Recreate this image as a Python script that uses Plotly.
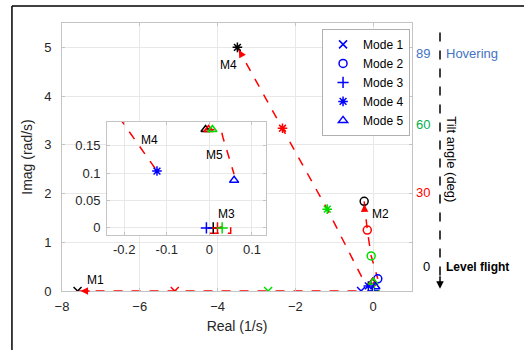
import plotly.graph_objects as go

# ---- data ----
stage_colors = ["#000000", "#ff0000", "#00dd00", "#0000ff"]  # black, red, green, blue stages

mode1_re = [-7.6, -5.1, -2.7, -0.31]
mode1_im = [0.0, 0.0, 0.0, 0.0]

mode2_re = [-0.23, -0.15, -0.05, 0.12]
mode2_im = [1.84, 1.25, 0.72, 0.25]

mode3_re = [0.009, 0.019, 0.03, -0.007]
mode3_im = [0.0, 0.0, 0.0, 0.0]
mode3_path_re = [0.009, 0.019, 0.03, 0.05, 0.05, -0.009, -0.007]
mode3_path_im = [0.0, 0.0, 0.002, 0.002, -0.01, -0.01, 0.0]

mode4_re = [-3.49, -2.33, -1.18, -0.123]
mode4_im = [5.0, 3.34, 1.68, 0.104]
mode4_path_re = [-3.49, -2.33, -1.18, -0.3, -0.123]
mode4_path_im = [5.0, 3.34, 1.68, 0.3, 0.104]

mode5_re = [-0.009, -0.002, 0.007, 0.058]
mode5_im = [0.18, 0.18, 0.18, 0.087]
mode5_path_re = [-0.009, -0.002, 0.007, 0.028, 0.032, 0.058]
mode5_path_im = [0.18, 0.18, 0.18, 0.178, 0.165, 0.098]

mode_names = ["Mode 1", "Mode 2", "Mode 3", "Mode 4", "Mode 5"]
mode_symbols = ["x-thin-open", "circle-open", "cross-thin-open", "asterisk-open", "triangle-up-open"]

main_labels = ["M1", "M4", "M2"]
main_label_re = [-7.15, -3.72, 0.2]
main_label_im = [0.22, 4.63, 1.58]

inset_labels = ["M4", "M5", "M3"]
inset_label_re = [-0.14, 0.012, 0.04]
inset_label_im = [0.161, 0.133, 0.026]

tilt_labels = ["89", "60", "30", "0"]
tilt_colors = ["#4472c4", "#00b050", "#ff0000", "#000000"]
tilt_pos = [0.922, 0.623, 0.369, 0.056]

FONT = "Liberation Sans, Arial, sans-serif"

fig = go.Figure()

markers = [
    (mode1_re, mode1_im, 0),
    (mode2_re, mode2_im, 1),
    (mode3_re, mode3_im, 2),
    (mode4_re, mode4_im, 3),
    (mode5_re, mode5_im, 4),
]
paths = [
    (mode1_re, mode1_im),
    (mode2_re, mode2_im),
    (mode3_path_re, mode3_path_im),
    (mode4_path_re, mode4_path_im),
    (mode5_path_re, mode5_path_im),
]

for xa, ya in [("x", "y"), ("x2", "y2")]:
    for pr, pi in paths:
        fig.add_trace(go.Scatter(x=pr, y=pi, mode="lines", xaxis=xa, yaxis=ya,
                                 line=dict(color="#ff0000", width=1.5, dash="dash"),
                                 showlegend=False, hoverinfo="skip"))
    for re_, im_, k in markers:
        fig.add_trace(go.Scatter(x=re_, y=im_, mode="markers", xaxis=xa, yaxis=ya,
                                 marker=dict(symbol=mode_symbols[k], size=8, color=stage_colors,
                                             line=dict(width=1.5, color=stage_colors)),
                                 showlegend=False))

# legend-only traces
for k in range(5):
    fig.add_trace(go.Scatter(x=[None], y=[None], mode="markers", name=mode_names[k],
                             marker=dict(symbol=mode_symbols[k], size=8, color="#0000ff",
                                         line=dict(width=1.5, color="#0000ff"))))

annotations = []
for t, xr, yi in zip(main_labels, main_label_re, main_label_im):
    annotations.append(dict(x=xr, y=yi, xref="x", yref="y", text=t, showarrow=False,
                            font=dict(size=12, color="#000000", family=FONT)))
for t, xr, yi in zip(inset_labels, inset_label_re, inset_label_im):
    annotations.append(dict(x=xr, y=yi, xref="x2", yref="y2", text=t, showarrow=False,
                            font=dict(size=12, color="#000000", family=FONT)))

# arrowheads pointing to the starting (black) points
arrow_tips = [(mode1_re[0], mode1_im[0], mode1_re[0] + 0.35, mode1_im[0]),
              (mode4_re[0], mode4_im[0], mode4_re[0] + 0.12, mode4_im[0] - 0.17),
              (mode2_re[0], mode2_im[0], mode2_re[0] + 0.01, mode2_im[0] - 0.2)]
for x, y, ax, ay in arrow_tips:
    annotations.append(dict(x=x, y=y, ax=ax, ay=ay, xref="x", yref="y", axref="x", ayref="y",
                            text="", showarrow=True, arrowhead=2, arrowsize=1, arrowwidth=1.5,
                            arrowcolor="#ff0000", standoff=3))

# tilt-angle side scale
for t, c, yp in zip(tilt_labels, tilt_colors, tilt_pos):
    annotations.append(dict(x=1.057, y=yp, xref="paper", yref="paper", text=t, showarrow=False,
                            xanchor="right", font=dict(size=13, color=c, family=FONT)))
annotations.append(dict(x=1.09, y=tilt_pos[0], xref="paper", yref="paper", text="Hovering",
                        showarrow=False, xanchor="left", font=dict(size=13, color="#4472c4", family=FONT)))
annotations.append(dict(x=1.09, y=tilt_pos[3], xref="paper", yref="paper", text="<b>Level flight</b>",
                        showarrow=False, xanchor="left", font=dict(size=12, color="#000000", family=FONT)))
annotations.append(dict(x=1.14, y=0.49, xref="paper", yref="paper", text="Tilt angle (deg)",
                        showarrow=False, textangle=90, font=dict(size=13, color="#000000", family=FONT)))
annotations.append(dict(x=1.08, y=0.008, ax=0, ay=-14, xref="paper", yref="paper",
                        axref="pixel", ayref="pixel", text="", showarrow=True, arrowhead=2,
                        arrowsize=1, arrowwidth=1.5, arrowcolor="#000000"))

shapes = [
    dict(type="rect", xref="x2 domain", yref="y2 domain", x0=0, x1=1, y0=0, y1=1,
         fillcolor="white", line=dict(width=0), layer="below"),
    dict(type="line", xref="paper", yref="paper", x0=1.08, x1=1.08, y0=0.965, y1=0.05,
         line=dict(color="#000000", width=1.5, dash="dash")),
    dict(type="line", xref="paper", yref="paper", x0=-0.143, x1=1.32, y0=1.063, y1=1.063,
         line=dict(color="#000000", width=1.5)),
    dict(type="line", xref="paper", yref="paper", x0=-0.143, x1=-0.143, y0=1.063, y1=-0.25,
         line=dict(color="#000000", width=1.5)),
]

axis_common = dict(showgrid=True, gridcolor="#e8e8e8", showline=True, linecolor="#c4c4c4",
                   linewidth=1, mirror="ticks", ticks="inside", ticklen=3, tickcolor="#c4c4c4",
                   zeroline=False, tickfont=dict(size=13, color="#262626", family=FONT))

fig.update_layout(
    width=526, height=350,
    margin=dict(l=62, r=114, t=23, b=59),
    paper_bgcolor="white", plot_bgcolor="white",
    font=dict(family=FONT),
    xaxis=dict(range=[-8, 1], dtick=2, domain=[0, 1], ticklabelstandoff=3,
               title=dict(text="Real (1/s)", font=dict(size=14, color="#262626"), standoff=8),
               **axis_common),
    yaxis=dict(range=[0, 5.5], dtick=1, domain=[0, 1], ticklabelstandoff=7,
               title=dict(text="Imag (rad/s)", font=dict(size=14, color="#262626"), standoff=8),
               **axis_common),
    xaxis2=dict(range=[-0.24, 0.133], tickvals=[-0.2, -0.1, 0, 0.1], ticktext=["-0.2", "-0.1", "0", "0.1"],
                domain=[0.129, 0.583], anchor="y2", ticklabelstandoff=2, **axis_common),
    yaxis2=dict(range=[-0.013, 0.194], tickvals=[0, 0.05, 0.1, 0.15], ticktext=["0", "0.05", "0.1", "0.15"],
                domain=[0.209, 0.631], anchor="x2", ticklabelstandoff=3, **axis_common),
    legend=dict(x=0.743, y=0.978, xanchor="left", yanchor="top", bgcolor="white",
                bordercolor="#b0b0b0", borderwidth=1, font=dict(size=12, color="#000000", family=FONT),
                tracegroupgap=0),
    annotations=annotations,
    shapes=shapes,
)

fig.write_html("out.html")
